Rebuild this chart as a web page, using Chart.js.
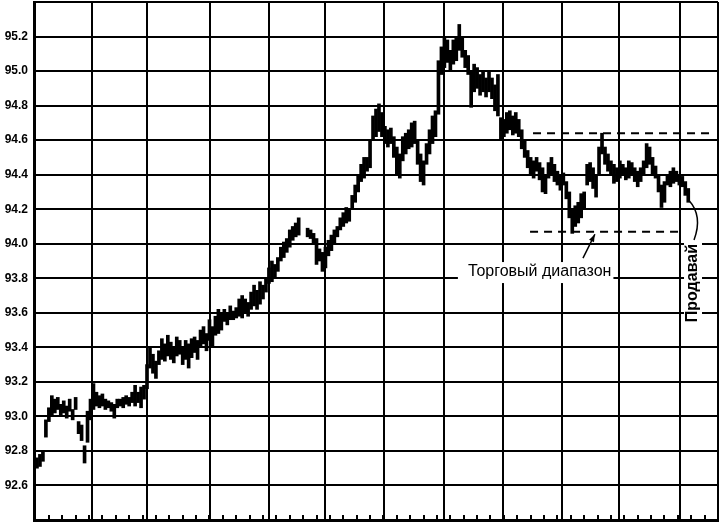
<!DOCTYPE html>
<html>
<head>
<meta charset="utf-8">
<script src="https://cdn.jsdelivr.net/npm/chart.js@4"></script>
<style>
  body { margin: 0; background: #fff; }
</style>
</head>
<body>
<canvas id="chart" width="720" height="528"></canvas>
<script>
// minimos e maximos de cada barra (dia)
var lows = [
  92.51, 92.70, 92.71, 92.74, 92.88, 92.97, 93.00, 93.02, 93.04, 93.00,
  93.02, 92.99, 93.03, 92.98, 93.04, 92.90, 92.86, 92.73, 92.85, 92.98,
  93.04, 93.06, 93.05, 93.06, 93.04, 93.05, 93.03, 92.99, 93.05, 93.06,
  93.05, 93.07, 93.06, 93.08, 93.06, 93.08, 93.05, 93.10, 93.16, 93.28,
  93.25, 93.22, 93.30, 93.33, 93.32, 93.35, 93.33, 93.31, 93.35, 93.36,
  93.30, 93.33, 93.28, 93.34, 93.37, 93.33, 93.40, 93.42, 93.38, 93.44,
  93.40, 93.47, 93.48, 93.50, 93.55, 93.53, 93.56, 93.56, 93.57, 93.58,
  93.57, 93.60, 93.58, 93.62, 93.64, 93.62, 93.65, 93.68, 93.72, 93.77,
  93.78, 93.80, 93.84, 93.90, 93.92, 93.95, 93.98, 94.02, 94.04, 94.05,
  null, null, 94.04, 94.03, 94.00, 93.88, 93.90, 93.84, 93.86, 93.93,
  93.96, 94.00, 94.04, 94.08, 94.10, 94.12, 94.13, 94.20, 94.24, 94.30,
  94.36, 94.38, 94.42, 94.44, 94.60, 94.62, 94.65, 94.62, 94.58, 94.56,
  94.58, 94.50, 94.40, 94.38, 94.48, 94.52, 94.55, 94.56, 94.58, 94.46,
  94.36, 94.34, 94.46, 94.52, 94.58, 94.62, 94.75, 94.98, 95.02, 95.05,
  95.00, 95.04, 95.06, 95.12, 95.08, 95.02, 94.98, 94.79, 94.88, 94.90,
  94.86, 94.88, 94.85, 94.88, 94.84, 94.77, 94.74, 94.60, 94.62, 94.64,
  94.66, 94.63, 94.64, 94.62, 94.55, 94.50, 94.44, 94.40, 94.38, 94.42,
  94.37, 94.30, 94.29, 94.38, 94.40, 94.36, 94.34, 94.31, 94.34, 94.26,
  94.15, 94.06, 94.10, 94.12, 94.15, 94.20, 94.34, 94.36, 94.32, 94.27,
  94.40, 94.52, 94.46, 94.42, 94.40, 94.35, 94.36, 94.38, 94.40, 94.37,
  94.38, 94.40, 94.36, 94.33, 94.36, 94.40, 94.44, 94.46, 94.40, 94.38,
  94.30, 94.21, 94.24, 94.34, 94.33, 94.35, 94.36, 94.34, 94.33, 94.28,
  94.24
];
var highs = [
  92.61, 92.76, 92.78, 92.80, 92.98, 93.05, 93.12, 93.10, 93.11, 93.07,
  93.09, 93.06, 93.10, 93.04, 93.11, 92.97, 92.95, 92.83, 93.03, 93.10,
  93.19, 93.14, 93.12, 93.13, 93.10, 93.09, 93.08, 93.07, 93.10, 93.10,
  93.11, 93.12, 93.11, 93.14, 93.18, 93.14, 93.17, 93.18, 93.30, 93.40,
  93.36, 93.32, 93.38, 93.45, 93.42, 93.47, 93.43, 93.40, 93.46, 93.44,
  93.40, 93.44, 93.42, 93.45, 93.46, 93.44, 93.50, 93.52, 93.48, 93.56,
  93.52, 93.58, 93.62, 93.60, 93.62, 93.60, 93.64, 93.61, 93.63, 93.68,
  93.70, 93.68, 93.66, 93.72, 93.76, 93.73, 93.78, 93.76, 93.80, 93.86,
  93.90, 93.88, 93.92, 93.98, 94.01, 94.03, 94.08, 94.10, 94.12, 94.15,
  null, null, 94.09, 94.08, 94.06, 94.03, 93.97, 93.95, 93.98, 94.02,
  94.05, 94.08, 94.10, 94.15, 94.18, 94.21, 94.20, 94.28, 94.34, 94.40,
  94.46, 94.50, 94.50, 94.60, 94.74, 94.78, 94.81, 94.76, 94.68, 94.66,
  94.67, 94.62, 94.56, 94.52, 94.62, 94.64, 94.66, 94.70, 94.71, 94.60,
  94.52, 94.48, 94.58, 94.66, 94.74, 94.77, 95.06, 95.14, 95.20, 95.18,
  95.12, 95.18, 95.20, 95.27, 95.19, 95.12, 95.09, 95.00, 95.04, 95.02,
  94.98, 95.00, 94.96, 95.00, 94.96, 94.92, 94.98, 94.73, 94.72, 94.76,
  94.77, 94.74, 94.76, 94.72, 94.66, 94.60, 94.54, 94.50, 94.48, 94.50,
  94.47, 94.44, 94.40, 94.47, 94.50, 94.46, 94.42, 94.40, 94.41, 94.36,
  94.30, 94.20, 94.22, 94.24, 94.29, 94.30, 94.46, 94.47, 94.44, 94.40,
  94.56, 94.64, 94.56, 94.52, 94.48, 94.46, 94.44, 94.48, 94.46, 94.44,
  94.48, 94.47, 94.44, 94.42, 94.44, 94.48, 94.58, 94.56, 94.50, 94.45,
  94.40, 94.34, 94.36, 94.40, 94.42, 94.44, 94.42, 94.40, 94.39, 94.36,
  94.32
];

// linhas verticais (fronteiras dos meses), em dias
var monthTicks = [19.5, 38, 59.2, 79.1, 97.9, 117.7, 137.9, 157.7, 177.6, 196.7, 217.2, 230];

// faixa de negociacao
var rangeTop = 94.64;
var rangeBottom = 94.07;

var points = [];
for (var i = 0; i < lows.length; i++) {
  points.push({ x: i, y: lows[i] === null ? null : [lows[i], highs[i]] });
}

// desenha marcas semanais, linhas tracejadas e textos
var notes = {
  id: 'notes',
  afterDraw: function(chart) {
    var ctx = chart.ctx;
    var xs = chart.scales.x;
    var ys = chart.scales.y;
    var area = chart.chartArea;
    ctx.save();
    ctx.strokeStyle = '#000';
    ctx.fillStyle = '#000';

    // marcas semanais no rodape
    ctx.lineWidth = 2;
    for (var w = 0.5; w < 230; w += 4.5) {
      var px = Math.round(xs.getPixelForValue(w));
      ctx.beginPath();
      ctx.moveTo(px, area.bottom);
      ctx.lineTo(px, area.bottom - 5);
      ctx.stroke();
    }

    // linhas tracejadas
    ctx.setLineDash([8, 6]);
    ctx.beginPath();
    ctx.moveTo(xs.getPixelForValue(167.8), ys.getPixelForValue(rangeTop));
    ctx.lineTo(xs.getPixelForValue(227.3), ys.getPixelForValue(rangeTop));
    ctx.moveTo(xs.getPixelForValue(166.8), ys.getPixelForValue(rangeBottom));
    ctx.lineTo(xs.getPixelForValue(217.2), ys.getPixelForValue(rangeBottom));
    ctx.stroke();
    ctx.setLineDash([]);

    // texto "Торговый диапазон"
    ctx.font = '16px "Liberation Sans", Arial, sans-serif';
    var tx = xs.getPixelForValue(145.9);
    var ty = ys.getPixelForValue(93.836);
    var tw = ctx.measureText('Торговый диапазон').width;
    ctx.fillStyle = '#fff';
    ctx.fillRect(tx - 10, ty - 10, tw + 12, 21);
    ctx.fillStyle = '#000';
    ctx.textBaseline = 'middle';
    ctx.fillText('Торговый диапазон', tx, ty);

    // seta para a faixa
    var ax1 = xs.getPixelForValue(184.6), ay1 = ys.getPixelForValue(93.917);
    var ax2 = xs.getPixelForValue(188.6), ay2 = ys.getPixelForValue(94.055);
    ctx.lineWidth = 1.5;
    ctx.beginPath();
    ctx.moveTo(ax1, ay1);
    ctx.lineTo(ax2, ay2);
    ctx.stroke();
    var ang = Math.atan2(ay2 - ay1, ax2 - ax1);
    ctx.beginPath();
    ctx.moveTo(ax2, ay2);
    ctx.lineTo(ax2 - 8 * Math.cos(ang - 0.35), ay2 - 8 * Math.sin(ang - 0.35));
    ctx.lineTo(ax2 - 8 * Math.cos(ang + 0.35), ay2 - 8 * Math.sin(ang + 0.35));
    ctx.closePath();
    ctx.fill();

    // texto vertical "Продавай"
    var sx = xs.getPixelForValue(221.6);
    var sy = ys.getPixelForValue(93.772);
    ctx.save();
    ctx.translate(sx, sy);
    ctx.rotate(-Math.PI / 2);
    ctx.font = 'bold 16px "Liberation Sans", Arial, sans-serif';
    ctx.textAlign = 'center';
    ctx.textBaseline = 'middle';
    ctx.fillStyle = '#fff';
    var sw = ctx.measureText('Продавай').width;
    ctx.fillRect(-sw / 2 - 2, -9, sw + 4, 18);
    ctx.fillStyle = '#000';
    ctx.fillText('Продавай', 0, 0);
    ctx.restore();

    // seta curva ate as ultimas barras
    ctx.lineWidth = 1.5;
    ctx.beginPath();
    ctx.moveTo(sx + 1, sy - sw / 2 - 4);
    ctx.quadraticCurveTo(sx + 10, sy - sw / 2 - 28, sx - 4, ys.getPixelForValue(94.25));
    ctx.stroke();

    ctx.restore();
  }
};

var ctx = document.getElementById('chart').getContext('2d');
new Chart(ctx, {
  type: 'bar',
  data: {
    datasets: [{
      data: points,
      backgroundColor: '#000',
      borderWidth: 0,
      barThickness: 3
    }]
  },
  options: {
    responsive: false,
    animation: false,
    layout: { padding: { top: 2, right: 2, left: 0, bottom: 0 } },
    plugins: {
      legend: { display: false },
      tooltip: { enabled: false }
    },
    scales: {
      x: {
        type: 'linear',
        min: 0,
        max: 230,
        offset: false,
        ticks: { display: false },
        grid: { color: '#000', lineWidth: 2, drawTicks: false, offset: false },
        border: { color: '#000', width: 3 },
        afterBuildTicks: function(scale) {
          scale.ticks = monthTicks.map(function(v) { return { value: v }; });
        },
        afterFit: function(scale) {
          scale.height = 8;
          scale.paddingLeft = 0;
          scale.paddingRight = 0;
        }
      },
      y: {
        min: 92.4,
        max: 95.4,
        ticks: {
          stepSize: 0.2,
          padding: 6,
          color: '#000',
          font: { family: '"Liberation Sans", Arial, sans-serif', size: 12, weight: 'bold' },
          callback: function(value) {
            if (value < 92.5 || value > 95.3) return '';
            return value.toFixed(1);
          }
        },
        grid: { color: '#000', lineWidth: 2, drawTicks: false },
        border: { color: '#000', width: 3 },
        afterFit: function(scale) {
          scale.width = 34;
          scale.paddingTop = 0;
          scale.paddingBottom = 0;
        }
      }
    }
  },
  plugins: [notes]
});
</script>
</body>
</html>
